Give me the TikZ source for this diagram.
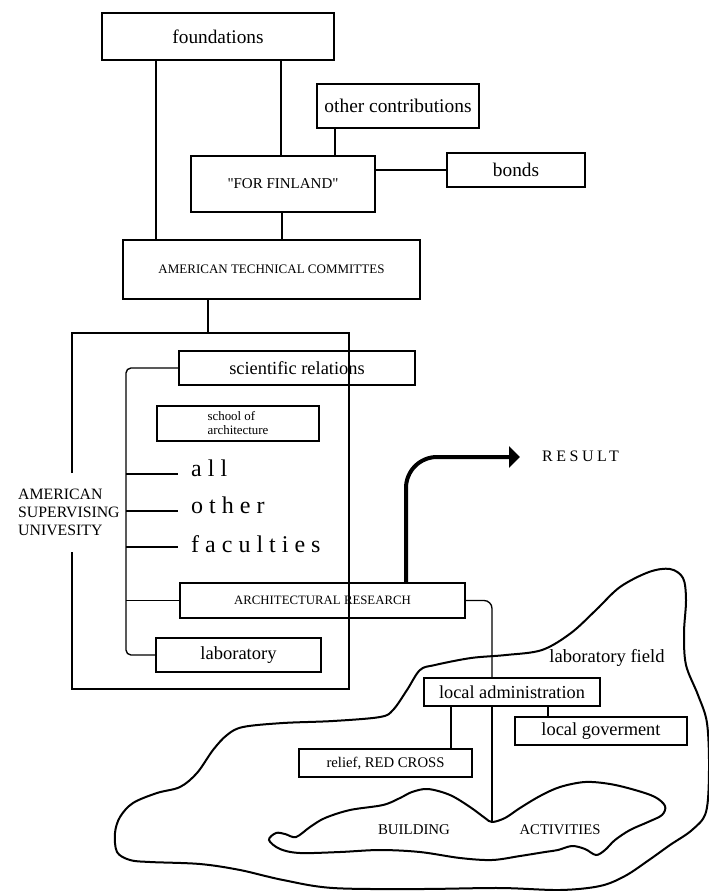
\documentclass[tikz,border=0pt]{standalone}
\usepackage{fontspec}
\setmainfont{Liberation Serif}
\newfontfamily\spacedfont[LetterSpace=25]{Liberation Serif}
\newfontfamily\resultfont[LetterSpace=22]{Liberation Serif}
\newfontfamily\quotefont[Ligatures=TeXOff]{Liberation Serif}
\usetikzlibrary{arrows.meta}
\newcommand\fsz[2]{\fontsize{#1}{#2}\selectfont}
\begin{document}
\begin{tikzpicture}[x=1pt,y=-1pt,
  box/.style={draw, line width=1.35pt, rectangle, inner sep=0pt},
  conn/.style={line width=1.35pt},
  bigbox/.style={line width=2.4pt},
  blob/.style={line width=2pt},
  plain/.style={inner sep=0pt}]
\useasboundingbox (0,0) rectangle (709,891);

% helper x-positions
\coordinate (xa) at (156,0);
\coordinate (xb) at (281,0);
\coordinate (xc) at (335,0);
\coordinate (xd) at (282,0);
\coordinate (xl) at (451,0);
\coordinate (xn) at (548,0);
\coordinate (vee) at (492,822);

% top boxes
\node[box, minimum width=232pt, minimum height=47pt, font=\fsz{19.3}{22}] (found) at (218,36.5) {foundations};
\node[box, minimum width=162pt, minimum height=44pt, font=\fsz{19.4}{22}] (other) at (398,106) {other contributions};
\node[box, minimum width=138pt, minimum height=34pt, font=\fsz{19.3}{22}] (bonds) at (516,170) {bonds};
\node[box, minimum width=184pt, minimum height=56pt, font={\quotefont\fsz{15}{18}}] (ff) at (283,184) {"FOR FINLAND"};
\node[box, minimum width=297pt, minimum height=59pt, font=\fsz{13}{16}] (atc) at (271.5,269.5) {AMERICAN TECHNICAL COMMITTES};

\draw[conn] (found.south -| xa) -- (atc.north -| xa);
\draw[conn] (found.south -| xb) -- (ff.north -| xb);
\draw[conn] (other.south -| xc) -- (ff.north -| xc);
\draw[conn] (ff.south -| xd) -- (atc.north -| xd);
\draw[conn] (ff.east |- bonds.west) -- (bonds.west);

% university frame
\node[plain, anchor=west, align=left, font=\fsz{15.8}{18}] (asu) at (18,512) {AMERICAN\\SUPERVISING\\UNIVESITY};
\coordinate (utop) at (208,333);
\draw[conn] (atc.south -| utop) -- (utop);
\draw[bigbox] (72,473) -- (72,333) -- (349,333) -- (349,689) -- (72,689) -- (72,552);

\node[box, minimum width=236pt, minimum height=34pt, font=\fsz{18.4}{21}] (sci) at (297,368) {scientific relations};
\node[box, minimum width=162pt, minimum height=35pt, align=left, font=\fsz{12.9}{14}] (school) at (238,423.5) {school of\\architecture};
\node[plain, anchor=base west, font={\spacedfont\fsz{24}{26}}] (all) at (191,476) {all};
\node[plain, anchor=base west, font={\spacedfont\fsz{24}{26}}] (oth) at (191,513) {other};
\node[plain, anchor=base west, font={\spacedfont\fsz{24}{26}}] (fac) at (191,552) {faculties};
\node[box, minimum width=285pt, minimum height=35pt, font=\fsz{12.8}{15}] (arch) at (322.5,600.5) {ARCHITECTURAL RESEARCH};
\node[box, minimum width=165pt, minimum height=34pt, font=\fsz{18.5}{21}] (lab) at (238.5,655) {laboratory};

\coordinate (brk) at (126,500);
\draw[conn, rounded corners=5pt] (sci.west) -| (brk) |- (lab.west);
\coordinate (t1) at (126,474); \coordinate (t1e) at (178,474);
\coordinate (t2) at (126,511); \coordinate (t2e) at (178,511);
\coordinate (t3) at (126,547); \coordinate (t3e) at (178,547);
\draw[conn] (t1) -- (t1e);
\draw[conn] (t2) -- (t2e);
\draw[conn] (t3) -- (t3e);
\draw[conn] (brk |- arch.west) -- (arch.west);

% result arrow
\coordinate (rup) at (406,457);
\coordinate (rtip) at (520,457);
\draw[line width=4pt, rounded corners=31pt, -{Triangle[length=11pt,width=21pt]}] (arch.north -| rup) -- (rup) -- (rtip);
\node[plain, anchor=west, font={\resultfont\fsz{16}{18}}] (result) at (542,456) {RESULT};

% laboratory field
\draw[blob] plot[smooth cycle, tension=0.55] coordinates {
 (115,833) (120,817) (133,803) (157,793) (180,787) (197,773) (213,750)
 (227,735) (243,727) (283,723) (333,721) (380,717) (393,710) (407,690)
 (420,670) (435,665) (471,658) (506,655) (542,650) (571,633) (596,610)
 (620,587) (649,572) (670,569) (683,578) (686,600) (684,633) (686,665)
 (698,695) (707,723) (709,770) (706,812) (692,830) (670,845) (649,860)
 (625,876) (600,886) (560,890) (500,888) (420,889) (333,888) (283,880)
 (240,870) (200,864) (150,862) (130,860) (117,852)};

% building activities
\draw[blob] plot[smooth cycle, tension=0.55] coordinates {
 (269,840) (276,833) (285,834) (296,837) (310,827) (325,818) (350,810)
 (383,805) (400,798) (412,792) (428,789) (450,795) (470,807) (485,818)
 (492,822) (505,818) (520,808) (540,796) (560,787) (585,782) (610,784)
 (635,790) (655,797) (665,806) (662,815) (648,822) (630,830) (615,840)
 (605,850) (596,855) (585,849) (572,846) (558,850) (545,852) (520,856)
 (492,860) (460,858) (420,852) (380,850) (340,852) (300,853) (280,849)};

\node[plain, font=\fsz{18.6}{21}] (lfield) at (607,658) {laboratory field};
\node[plain, font=\fsz{14.9}{17}] (building) at (414,830) {BUILDING};
\node[plain, font=\fsz{14.7}{17}] (activities) at (560,830) {ACTIVITIES};

\node[box, fill=white, minimum width=176pt, minimum height=28pt, font=\fsz{18.3}{21}] (ladmin) at (512,692) {local administration};
\node[box, fill=white, minimum width=172pt, minimum height=28pt, font=\fsz{18.4}{21}] (lgov) at (601,731) {local goverment};
\node[box, fill=white, minimum width=173pt, minimum height=28pt, font=\fsz{14.7}{17}] (relief) at (385.5,763) {relief, RED CROSS};

\draw[conn, rounded corners=8pt] (arch.east) -| (ladmin.north -| vee);
\draw[conn] (ladmin.south -| vee) -- (vee);
\draw[conn] (ladmin.south -| xl) -- (relief.north -| xl);
\draw[conn] (ladmin.south -| xn) -- (lgov.north -| xn);
\end{tikzpicture}
\end{document}
